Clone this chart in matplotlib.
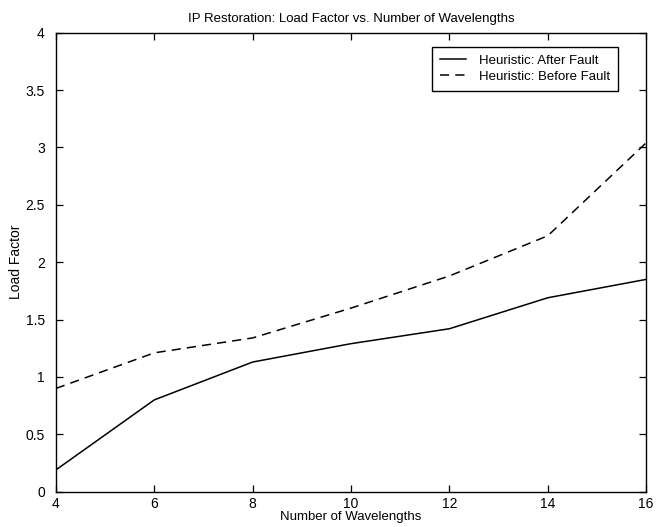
import numpy as np
import matplotlib
matplotlib.use("Agg")
import matplotlib.pyplot as plt

plt.rcParams['font.family'] = ['Liberation Sans', 'DejaVu Sans']

wavelengths = [4, 6, 8, 10, 12, 14, 16]
after_fault = [0.19, 0.80, 1.13, 1.29, 1.42, 1.69, 1.85]
before_fault = [0.90, 1.21, 1.34, 1.60, 1.88, 2.23, 3.04]

fig = plt.figure(figsize=(6.58, 5.27), dpi=100)
ax = fig.add_axes([0.085, 0.067, 0.897, 0.871])

ax.plot(wavelengths, after_fault, color="black", linewidth=1.1, linestyle="-",
        label="Heuristic: After Fault")
ax.plot(wavelengths, before_fault, color="black", linewidth=1.1, linestyle=(0, (6, 4)),
        label="Heuristic: Before Fault")

ax.set_xlim(4, 16)
ax.set_ylim(0, 4)
ax.set_xticks([4, 6, 8, 10, 12, 14, 16])
ax.set_yticks([0, 0.5, 1, 1.5, 2, 2.5, 3, 3.5, 4])
ax.set_yticklabels(["0", "0.5", "1", "1.5", "2", "2.5", "3", "3.5", "4"])
ax.tick_params(direction="in", top=True, right=True, length=5, labelsize=10, width=0.9)
ax.tick_params(axis="x", pad=4)
ax.tick_params(axis="y", pad=8)
for s in ax.spines.values():
    s.set_linewidth(1.0)

ax.set_title("IP Restoration: Load Factor vs. Number of Wavelengths", fontsize=9.5, pad=8)
ax.set_xlabel("Number of Wavelengths", fontsize=9.5, labelpad=0)
ax.set_ylabel("Load Factor", fontsize=10, labelpad=2)

leg = ax.legend(loc="upper right", bbox_to_anchor=(0.953, 0.969), borderaxespad=0,
                fontsize=9.5, frameon=True, fancybox=False, edgecolor="black",
                framealpha=1, handlelength=2.0, handletextpad=1.0,
                borderpad=0.6, labelspacing=0.25)
leg.get_frame().set_linewidth(1.0)

fig.savefig("out.png", dpi=100)
